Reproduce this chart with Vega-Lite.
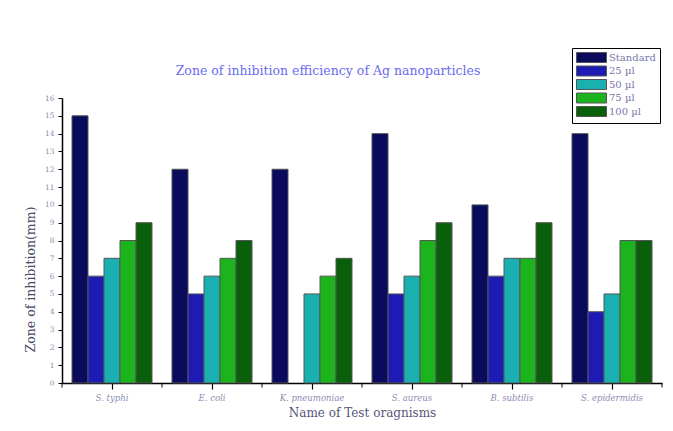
{
  "$schema": "https://vega.github.io/schema/vega-lite/v6.json",
  "width": 600,
  "height": 285,
  "autosize": {"type": "none"},
  "padding": {"left": 62, "top": 98, "right": 11, "bottom": 48},
  "background": "white",
  "title": {
    "text": "Zone of inhibition efficiency of Ag nanoparticles",
    "font": "DejaVu Serif",
    "fontSize": 12.5,
    "fontWeight": "normal",
    "color": "#6b6bef",
    "anchor": "middle",
    "frame": "group",
    "dx": -34,
    "dy": 50,
    "offset": 20
  },
  "config": {
    "view": {"stroke": null}
  },
  "data": {
    "values": [
      {"org": "S. typhi", "series": "Standard", "zone": 15},
      {"org": "S. typhi", "series": "25 µl", "zone": 6},
      {"org": "S. typhi", "series": "50 µl", "zone": 7},
      {"org": "S. typhi", "series": "75 µl", "zone": 8},
      {"org": "S. typhi", "series": "100 µl", "zone": 9},
      {"org": "E. coli", "series": "Standard", "zone": 12},
      {"org": "E. coli", "series": "25 µl", "zone": 5},
      {"org": "E. coli", "series": "50 µl", "zone": 6},
      {"org": "E. coli", "series": "75 µl", "zone": 7},
      {"org": "E. coli", "series": "100 µl", "zone": 8},
      {"org": "K. pneumoniae", "series": "Standard", "zone": 12},
      {"org": "K. pneumoniae", "series": "25 µl", "zone": 0},
      {"org": "K. pneumoniae", "series": "50 µl", "zone": 5},
      {"org": "K. pneumoniae", "series": "75 µl", "zone": 6},
      {"org": "K. pneumoniae", "series": "100 µl", "zone": 7},
      {"org": "S. aureus", "series": "Standard", "zone": 14},
      {"org": "S. aureus", "series": "25 µl", "zone": 5},
      {"org": "S. aureus", "series": "50 µl", "zone": 6},
      {"org": "S. aureus", "series": "75 µl", "zone": 8},
      {"org": "S. aureus", "series": "100 µl", "zone": 9},
      {"org": "B. subtilis", "series": "Standard", "zone": 10},
      {"org": "B. subtilis", "series": "25 µl", "zone": 6},
      {"org": "B. subtilis", "series": "50 µl", "zone": 7},
      {"org": "B. subtilis", "series": "75 µl", "zone": 7},
      {"org": "B. subtilis", "series": "100 µl", "zone": 9},
      {"org": "S. epidermidis", "series": "Standard", "zone": 14},
      {"org": "S. epidermidis", "series": "25 µl", "zone": 4},
      {"org": "S. epidermidis", "series": "50 µl", "zone": 5},
      {"org": "S. epidermidis", "series": "75 µl", "zone": 8},
      {"org": "S. epidermidis", "series": "100 µl", "zone": 8}
    ]
  },
  "layer": [
    {
      "mark": {"type": "bar", "stroke": "#555555", "strokeWidth": 1},
      "transform": [{"filter": "datum.zone > 0"}],
      "encoding": {
        "x": {
          "field": "org",
          "type": "nominal",
          "sort": ["S. typhi", "E. coli", "K. pneumoniae", "S. aureus", "B. subtilis", "S. epidermidis"],
          "scale": {"paddingInner": 0.2, "paddingOuter": 0.1},
          "axis": {
            "title": "Name of Test oragnisms",
            "titleFont": "DejaVu Serif",
            "titleFontSize": 12,
            "titleFontWeight": "normal",
            "titleColor": "#555577",
            "titleY": 33,
            "titleBaseline": "alphabetic",
            "labelAngle": 0,
            "labelFont": "DejaVu Serif",
            "labelFontStyle": "italic",
            "labelFontSize": 8.5,
            "labelColor": "#8c8cb4",
            "labelPadding": 4,
            "domainColor": "black",
            "domainWidth": 1.5,
            "ticks": true,
            "tickColor": "black",
            "tickSize": 6,
            "tickWidth": 1.2
          }
        },
        "xOffset": {
          "field": "series",
          "type": "nominal",
          "sort": ["Standard", "25 µl", "50 µl", "75 µl", "100 µl"],
          "scale": {"paddingInner": 0, "paddingOuter": 0}
        },
        "y": {
          "field": "zone",
          "type": "quantitative",
          "scale": {"domain": [0, 16], "nice": false},
          "axis": {
            "title": "Zone of inhibition(mm)",
            "titleFont": "DejaVu Serif",
            "titleFontSize": 12.5,
            "titleFontWeight": "normal",
            "titleColor": "#4a4a66",
            "titleX": -32,
            "titleY": 181,
            "titleAngle": 270,
            "titleAlign": "center",
            "titleBaseline": "middle",
            "values": [0, 0.5, 1, 1.5, 2, 2.5, 3, 3.5, 4, 4.5, 5, 5.5, 6, 6.5, 7, 7.5, 8, 8.5, 9, 9.5, 10, 10.5, 11, 11.5, 12, 12.5, 13, 13.5, 14, 14.5, 15, 15.5, 16],
            "format": "d",
            "labelExpr": "datum.value % 1 === 0 ? datum.label : ''",
            "labelOverlap": false,
            "labelFont": "DejaVu Serif",
            "labelFontSize": 7.5,
            "labelColor": "#8c8cb4",
            "labelPadding": 4,
            "grid": false,
            "domainColor": "black",
            "domainWidth": 1.5,
            "ticks": true,
            "tickColor": "black",
            "tickWidth": 1,
            "tickSize": 4
          }
        },
        "color": {
          "field": "series",
          "type": "nominal",
          "scale": {
            "domain": ["Standard", "25 µl", "50 µl", "75 µl", "100 µl"],
            "range": ["#0b0b5e", "#1c1cb4", "#1ab0b0", "#1cb41c", "#0a600a"]
          },
          "legend": {
            "title": null,
            "orient": "none",
            "legendX": 510,
            "legendY": -50,
            "padding": 4,
            "strokeColor": "black",
            "fillColor": "white",
            "symbolType": "M-1,-1H5V1H-1Z",
            "symbolSize": 100,
            "symbolStrokeColor": "#555555",
            "symbolStrokeWidth": 1,
            "symbolOpacity": 1,
            "labelOffset": 22,
            "labelFont": "DejaVu Serif",
            "labelFontSize": 10,
            "labelColor": "#7777aa",
            "rowPadding": -1.5
          }
        }
      }
    },
    {
      "mark": {"type": "rule", "color": "black", "strokeWidth": 1},
      "transform": [{"filter": "datum.series === 'Standard'"}],
      "encoding": {
        "x": {
          "field": "org",
          "type": "nominal",
          "bandPosition": -0.125,
          "sort": ["S. typhi", "E. coli", "K. pneumoniae", "S. aureus", "B. subtilis", "S. epidermidis"],
          "axis": {
            "title": "Name of Test oragnisms",
            "titleFont": "DejaVu Serif",
            "titleFontSize": 12,
            "titleFontWeight": "normal",
            "titleColor": "#555577",
            "titleY": 33,
            "titleBaseline": "alphabetic",
            "labelAngle": 0,
            "labelFont": "DejaVu Serif",
            "labelFontStyle": "italic",
            "labelFontSize": 8.5,
            "labelColor": "#8c8cb4",
            "labelPadding": 4,
            "domainColor": "black",
            "domainWidth": 1.5,
            "ticks": true,
            "tickColor": "black",
            "tickSize": 6,
            "tickWidth": 1.2
          }
        },
        "y": {
          "datum": 0,
          "type": "quantitative",
          "axis": {
            "title": "Zone of inhibition(mm)",
            "titleFont": "DejaVu Serif",
            "titleFontSize": 12.5,
            "titleFontWeight": "normal",
            "titleColor": "#4a4a66",
            "titleX": -32,
            "titleY": 181,
            "titleAngle": 270,
            "titleAlign": "center",
            "titleBaseline": "middle",
            "values": [0, 0.5, 1, 1.5, 2, 2.5, 3, 3.5, 4, 4.5, 5, 5.5, 6, 6.5, 7, 7.5, 8, 8.5, 9, 9.5, 10, 10.5, 11, 11.5, 12, 12.5, 13, 13.5, 14, 14.5, 15, 15.5, 16],
            "format": "d",
            "labelExpr": "datum.value % 1 === 0 ? datum.label : ''",
            "labelOverlap": false,
            "labelFont": "DejaVu Serif",
            "labelFontSize": 7.5,
            "labelColor": "#8c8cb4",
            "labelPadding": 4,
            "grid": false,
            "domainColor": "black",
            "domainWidth": 1.5,
            "ticks": true,
            "tickColor": "black",
            "tickWidth": 1,
            "tickSize": 4
          }
        },
        "y2": {"datum": -0.25}
      }
    },
    {
      "mark": {"type": "rule", "color": "black", "strokeWidth": 1},
      "transform": [{"filter": "datum.series === 'Standard' && datum.org === 'S. epidermidis'"}],
      "encoding": {
        "x": {
          "field": "org",
          "type": "nominal",
          "bandPosition": 1.125,
          "sort": ["S. typhi", "E. coli", "K. pneumoniae", "S. aureus", "B. subtilis", "S. epidermidis"],
          "axis": {
            "title": "Name of Test oragnisms",
            "titleFont": "DejaVu Serif",
            "titleFontSize": 12,
            "titleFontWeight": "normal",
            "titleColor": "#555577",
            "titleY": 33,
            "titleBaseline": "alphabetic",
            "labelAngle": 0,
            "labelFont": "DejaVu Serif",
            "labelFontStyle": "italic",
            "labelFontSize": 8.5,
            "labelColor": "#8c8cb4",
            "labelPadding": 4,
            "domainColor": "black",
            "domainWidth": 1.5,
            "ticks": true,
            "tickColor": "black",
            "tickSize": 6,
            "tickWidth": 1.2
          }
        },
        "y": {
          "datum": 0,
          "type": "quantitative",
          "axis": {
            "title": "Zone of inhibition(mm)",
            "titleFont": "DejaVu Serif",
            "titleFontSize": 12.5,
            "titleFontWeight": "normal",
            "titleColor": "#4a4a66",
            "titleX": -32,
            "titleY": 181,
            "titleAngle": 270,
            "titleAlign": "center",
            "titleBaseline": "middle",
            "values": [0, 0.5, 1, 1.5, 2, 2.5, 3, 3.5, 4, 4.5, 5, 5.5, 6, 6.5, 7, 7.5, 8, 8.5, 9, 9.5, 10, 10.5, 11, 11.5, 12, 12.5, 13, 13.5, 14, 14.5, 15, 15.5, 16],
            "format": "d",
            "labelExpr": "datum.value % 1 === 0 ? datum.label : ''",
            "labelOverlap": false,
            "labelFont": "DejaVu Serif",
            "labelFontSize": 7.5,
            "labelColor": "#8c8cb4",
            "labelPadding": 4,
            "grid": false,
            "domainColor": "black",
            "domainWidth": 1.5,
            "ticks": true,
            "tickColor": "black",
            "tickWidth": 1,
            "tickSize": 4
          }
        },
        "y2": {"datum": -0.25}
      }
    }
  ]
}
